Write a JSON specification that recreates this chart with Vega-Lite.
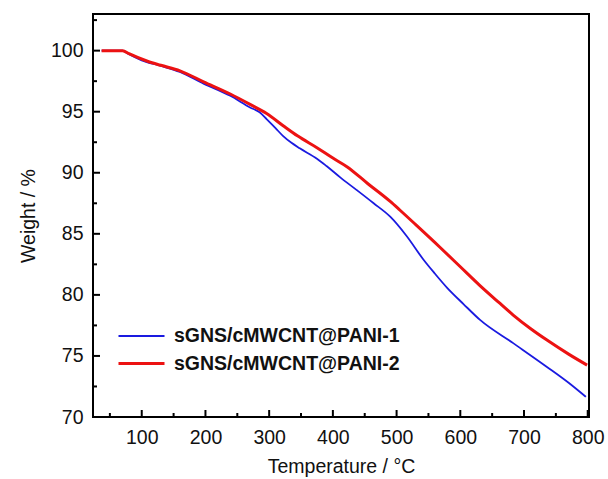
{
  "$schema": "https://vega.github.io/schema/vega-lite/v6.json",
  "width": 496,
  "height": 403,
  "autosize": {"type": "none"},
  "padding": {"left": 93, "top": 14, "right": 19, "bottom": 62},
  "background": "white",
  "config": {
    "view": {"stroke": "black", "strokeWidth": 2},
    "font": "Liberation Sans",
    "axis": {"grid": false, "zindex": 0, "labelFont": "Liberation Sans", "titleFont": "Liberation Sans", "labelColor": "#111", "titleColor": "#111", "titleFontWeight": "normal"}
  },
  "datasets": {
    "curves": [
      {"T": 37, "W": 100, "s": "sGNS/cMWCNT@PANI-1"},
      {"T": 70, "W": 100, "s": "sGNS/cMWCNT@PANI-1"},
      {"T": 80, "W": 99.7, "s": "sGNS/cMWCNT@PANI-1"},
      {"T": 100, "W": 99.2, "s": "sGNS/cMWCNT@PANI-1"},
      {"T": 130, "W": 98.75, "s": "sGNS/cMWCNT@PANI-1"},
      {"T": 160, "W": 98.25, "s": "sGNS/cMWCNT@PANI-1"},
      {"T": 197, "W": 97.3, "s": "sGNS/cMWCNT@PANI-1"},
      {"T": 239, "W": 96.3, "s": "sGNS/cMWCNT@PANI-1"},
      {"T": 270, "W": 95.35, "s": "sGNS/cMWCNT@PANI-1"},
      {"T": 285, "W": 94.95, "s": "sGNS/cMWCNT@PANI-1"},
      {"T": 296, "W": 94.4, "s": "sGNS/cMWCNT@PANI-1"},
      {"T": 310, "W": 93.65, "s": "sGNS/cMWCNT@PANI-1"},
      {"T": 322, "W": 93.0, "s": "sGNS/cMWCNT@PANI-1"},
      {"T": 335, "W": 92.45, "s": "sGNS/cMWCNT@PANI-1"},
      {"T": 348, "W": 92.0, "s": "sGNS/cMWCNT@PANI-1"},
      {"T": 375, "W": 91.15, "s": "sGNS/cMWCNT@PANI-1"},
      {"T": 390, "W": 90.55, "s": "sGNS/cMWCNT@PANI-1"},
      {"T": 412, "W": 89.6, "s": "sGNS/cMWCNT@PANI-1"},
      {"T": 437, "W": 88.6, "s": "sGNS/cMWCNT@PANI-1"},
      {"T": 464, "W": 87.5, "s": "sGNS/cMWCNT@PANI-1"},
      {"T": 490, "W": 86.4, "s": "sGNS/cMWCNT@PANI-1"},
      {"T": 516, "W": 84.8, "s": "sGNS/cMWCNT@PANI-1"},
      {"T": 542, "W": 82.9, "s": "sGNS/cMWCNT@PANI-1"},
      {"T": 560, "W": 81.75, "s": "sGNS/cMWCNT@PANI-1"},
      {"T": 579, "W": 80.6, "s": "sGNS/cMWCNT@PANI-1"},
      {"T": 605, "W": 79.25, "s": "sGNS/cMWCNT@PANI-1"},
      {"T": 631, "W": 77.95, "s": "sGNS/cMWCNT@PANI-1"},
      {"T": 683, "W": 76.05, "s": "sGNS/cMWCNT@PANI-1"},
      {"T": 736, "W": 74.1, "s": "sGNS/cMWCNT@PANI-1"},
      {"T": 770, "W": 72.8, "s": "sGNS/cMWCNT@PANI-1"},
      {"T": 797, "W": 71.65, "s": "sGNS/cMWCNT@PANI-1"},
      {"T": 37, "W": 100, "s": "sGNS/cMWCNT@PANI-2"},
      {"T": 70, "W": 100, "s": "sGNS/cMWCNT@PANI-2"},
      {"T": 80, "W": 99.75, "s": "sGNS/cMWCNT@PANI-2"},
      {"T": 108, "W": 99.15, "s": "sGNS/cMWCNT@PANI-2"},
      {"T": 130, "W": 98.8, "s": "sGNS/cMWCNT@PANI-2"},
      {"T": 160, "W": 98.35, "s": "sGNS/cMWCNT@PANI-2"},
      {"T": 197, "W": 97.45, "s": "sGNS/cMWCNT@PANI-2"},
      {"T": 239, "W": 96.45, "s": "sGNS/cMWCNT@PANI-2"},
      {"T": 270, "W": 95.6, "s": "sGNS/cMWCNT@PANI-2"},
      {"T": 296, "W": 94.85, "s": "sGNS/cMWCNT@PANI-2"},
      {"T": 322, "W": 93.85, "s": "sGNS/cMWCNT@PANI-2"},
      {"T": 345, "W": 93.0, "s": "sGNS/cMWCNT@PANI-2"},
      {"T": 375, "W": 92.05, "s": "sGNS/cMWCNT@PANI-2"},
      {"T": 400, "W": 91.2, "s": "sGNS/cMWCNT@PANI-2"},
      {"T": 422, "W": 90.5, "s": "sGNS/cMWCNT@PANI-2"},
      {"T": 455, "W": 89.1, "s": "sGNS/cMWCNT@PANI-2"},
      {"T": 490, "W": 87.65, "s": "sGNS/cMWCNT@PANI-2"},
      {"T": 505, "W": 86.95, "s": "sGNS/cMWCNT@PANI-2"},
      {"T": 530, "W": 85.75, "s": "sGNS/cMWCNT@PANI-2"},
      {"T": 568, "W": 83.9, "s": "sGNS/cMWCNT@PANI-2"},
      {"T": 600, "W": 82.3, "s": "sGNS/cMWCNT@PANI-2"},
      {"T": 630, "W": 80.8, "s": "sGNS/cMWCNT@PANI-2"},
      {"T": 660, "W": 79.4, "s": "sGNS/cMWCNT@PANI-2"},
      {"T": 683, "W": 78.35, "s": "sGNS/cMWCNT@PANI-2"},
      {"T": 710, "W": 77.25, "s": "sGNS/cMWCNT@PANI-2"},
      {"T": 736, "W": 76.3, "s": "sGNS/cMWCNT@PANI-2"},
      {"T": 770, "W": 75.15, "s": "sGNS/cMWCNT@PANI-2"},
      {"T": 799, "W": 74.25, "s": "sGNS/cMWCNT@PANI-2"}
    ],
    "xmajor": [{"v": 100}, {"v": 200}, {"v": 300}, {"v": 400}, {"v": 500}, {"v": 600}, {"v": 700}, {"v": 800}],
    "xminor": [{"v": 50}, {"v": 150}, {"v": 250}, {"v": 350}, {"v": 450}, {"v": 550}, {"v": 650}, {"v": 750}],
    "ymajor": [{"v": 70}, {"v": 75}, {"v": 80}, {"v": 85}, {"v": 90}, {"v": 95}, {"v": 100}],
    "yminor": [{"v": 72.5}, {"v": 77.5}, {"v": 82.5}, {"v": 87.5}, {"v": 92.5}, {"v": 97.5}, {"v": 102.5}]
  },
  "layer": [
    {
      "data": {"name": "curves"},
      "mark": {"type": "line", "interpolate": "monotone"},
      "encoding": {
        "x": {"field": "T", "type": "quantitative", "scale": {"domain": [23.5, 802], "nice": false, "zero": false},
          "axis": {"orient": "bottom", "offset": 8, "values": [100, 200, 300, 400, 500, 600, 700, 800], "ticks": false, "domain": false, "labelFontSize": 19.5, "labelPadding": 3, "title": "Temperature / °C", "titleFontSize": 19.5, "titlePadding": 11}},
        "y": {"field": "W", "type": "quantitative", "scale": {"domain": [70, 103], "nice": false, "zero": false},
          "axis": {"orient": "left", "offset": 8, "values": [70, 75, 80, 85, 90, 95, 100], "ticks": false, "domain": false, "labelFontSize": 19.5, "labelPadding": 2, "title": "Weight / %", "titleFontSize": 19.5, "titlePadding": 12}},
        "color": {"field": "s", "type": "nominal", "scale": {"domain": ["sGNS/cMWCNT@PANI-1", "sGNS/cMWCNT@PANI-2"], "range": ["#1a1ae0", "#ec1212"]},
          "legend": {"title": null, "orient": "none", "legendX": 24, "legendY": 312, "symbolType": "stroke", "symbolSize": 2116, "symbolStrokeWidth": 2.5, "clipHeight": 20, "rowPadding": 7.5, "labelFontSize": 19.5, "labelFontWeight": "bold", "labelColor": "#111", "labelOffset": 8, "labelLimit": 400}},
        "strokeWidth": {"field": "s", "type": "ordinal", "scale": {"domain": ["sGNS/cMWCNT@PANI-1", "sGNS/cMWCNT@PANI-2"], "range": [1.8, 3]}, "legend": null}
      }
    },
    {
      "data": {"name": "xmajor"},
      "mark": {"type": "tick", "orient": "vertical", "size": 7, "thickness": 2, "color": "black", "opacity": 1, "yOffset": -3.5},
      "encoding": {"x": {"field": "v", "type": "quantitative"}, "y": {"datum": 70, "type": "quantitative"}}
    },
    {
      "data": {"name": "xminor"},
      "mark": {"type": "tick", "orient": "vertical", "size": 4, "thickness": 2, "color": "black", "opacity": 1, "yOffset": -2},
      "encoding": {"x": {"field": "v", "type": "quantitative"}, "y": {"datum": 70, "type": "quantitative"}}
    },
    {
      "data": {"name": "ymajor"},
      "mark": {"type": "tick", "orient": "horizontal", "size": 7, "thickness": 2, "color": "black", "opacity": 1, "xOffset": 3.5},
      "encoding": {"y": {"field": "v", "type": "quantitative"}, "x": {"datum": 23.5, "type": "quantitative"}}
    },
    {
      "data": {"name": "yminor"},
      "mark": {"type": "tick", "orient": "horizontal", "size": 4, "thickness": 2, "color": "black", "opacity": 1, "xOffset": 2},
      "encoding": {"y": {"field": "v", "type": "quantitative"}, "x": {"datum": 23.5, "type": "quantitative"}}
    }
  ]
}
